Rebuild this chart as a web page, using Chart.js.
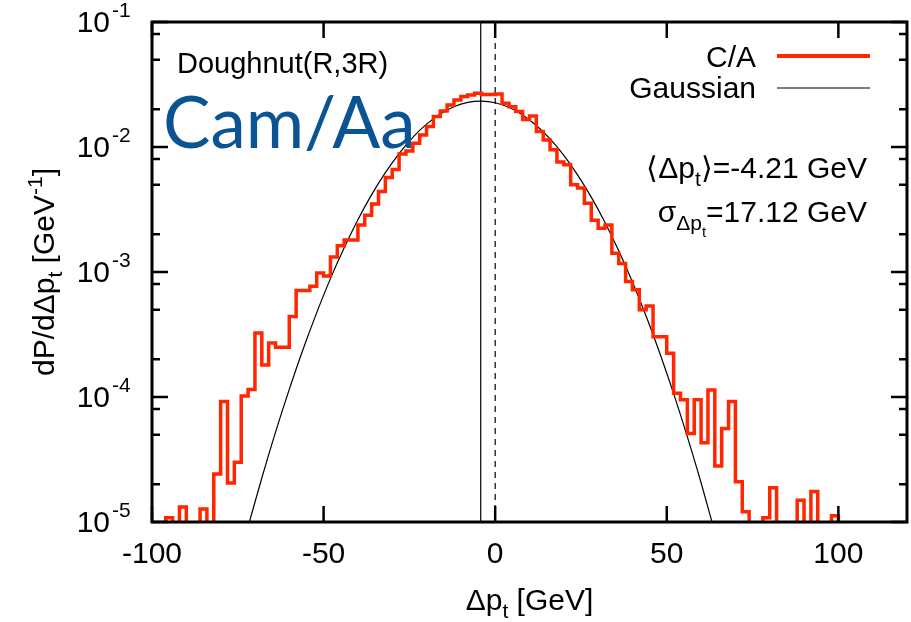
<!DOCTYPE html>
<html>
<head>
<meta charset="utf-8">
<script src="https://cdn.jsdelivr.net/npm/chart.js@4.4.1/dist/chart.umd.min.js"></script>
<style>
    html, body { margin: 0; padding: 0; background: #fff; }
    canvas { display: block; }
</style>
</head>
<body>
<canvas id="grafica" width="911" height="622"></canvas>
<script>
// ─── DATOS ────────────────────────────────────────────────────────
// bordes de los bins (GeV)
const bordes = [
    -100, -98, -96, -94, -92, -90, -88, -86, -84, -82,
    -80, -78, -76, -74, -72, -70, -68, -66, -64, -62,
    -60, -58, -56, -54, -52, -50, -48, -46, -44, -42,
    -40, -38, -36, -34, -32, -30, -28, -26, -24, -22,
    -20, -18, -16, -14, -12, -10, -8, -6, -4, -2,
    0, 2, 4, 6, 8, 10, 12, 14, 16, 18,
    20, 22, 24, 26, 28, 30, 32, 34, 36, 38,
    40, 42, 44, 46, 48, 50, 52, 54, 56, 58,
    60, 62, 64, 66, 68, 70, 72, 74, 76, 78,
    80, 82, 84, 86, 88, 90, 92, 94, 96, 98,
    100
]

// dP/dΔpt por bin (C/A), 0 = bin vacío
const densidadCA = [
    0, 0, 1.08e-5, 0, 1.32e-5, 0, 0, 1.27e-5, 0, 2.42e-5,
    9.2e-5, 2.05e-5, 3.0e-5, 1.02e-4, 1.15e-4, 3.25e-4, 1.8e-4, 2.7e-4, 2.5e-4, 2.5e-4,
    4.4e-4, 7.1e-4, 7.1e-4, 7.7e-4, 9.8e-4, 9.3e-4, 1.32e-3, 1.62e-3, 1.8e-3, 1.8e-3,
    2.38e-3, 2.84e-3, 3.5e-3, 4.4e-3, 5.7e-3, 6.6e-3, 8.8e-3, 9.3e-3, 1.07e-2, 1.25e-2,
    1.46e-2, 1.75e-2, 1.94e-2, 2.17e-2, 2.38e-2, 2.53e-2, 2.61e-2, 2.69e-2, 2.63e-2, 2.63e-2,
    2.65e-2, 2.24e-2, 2.10e-2, 1.92e-2, 1.66e-2, 1.77e-2, 1.33e-2, 1.14e-2, 9.5e-3, 7.6e-3,
    7.2e-3, 5.0e-3, 4.7e-3, 3.55e-3, 2.6e-3, 2.24e-3, 2.38e-3, 1.41e-3, 1.17e-3, 8.4e-4,
    7.2e-4, 5.0e-4, 5.35e-4, 3.04e-4, 3.04e-4, 2.24e-4, 1.07e-4, 9.5e-5, 5.1e-5, 9.5e-5,
    4.3e-5, 1.14e-4, 2.8e-5, 5.6e-5, 9.2e-5, 2.1e-5, 1.21e-5, 0, 0, 1.08e-5,
    1.88e-5, 0, 0, 0, 1.49e-5, 0, 1.75e-5, 0, 0, 1.12e-5
]

// curva gaussiana
const gaussX = [
    -72, -68, -64, -60, -56, -52, -48, -44, -40, -36, -32, -28,
    -24, -20, -16, -12, -8, -4, 0, 4, 8, 12, 16, 20,
    24, 28, 32, 36, 40, 44, 48, 52, 56, 60, 64
]
const gaussY = [
    9.2e-6, 2.25e-5, 5.24e-5, 1.15e-4, 2.40e-4, 4.73e-4, 8.85e-4, 1.56e-3, 2.62e-3, 4.16e-3, 6.24e-3, 8.87e-3,
    1.195e-2, 1.523e-2, 1.838e-2, 2.101e-2, 2.274e-2, 2.33e-2, 2.261e-2, 2.077e-2, 1.807e-2, 1.488e-2, 1.161e-2, 8.57e-3,
    5.99e-3, 3.97e-3, 2.49e-3, 1.478e-3, 8.31e-4, 4.42e-4, 2.23e-4, 1.063e-4, 4.80e-5, 2.06e-5, 8.3e-6
]

const mediaDpt = -4.21
const sigmaDpt = 17.12

const ticksX = [-100, -50, 0, 50, 100]
const exponentesY = [-5, -4, -3, -2, -1]
const menoresY = [2, 5, 8]

const X_MIN = -100, X_MAX = 120
const Y_MIN = 1e-5, Y_MAX = 1e-1
const PISO = 1e-9   // los bins vacíos caen fuera del área (escala log)

const ROJO = 'rgb(255,38,0)'
const AZUL = 'rgb(11,84,148)'
const FUENTE = '"Liberation Sans", Arial, Helvetica, sans-serif'

// ─── TEXTO CON SUB/SUPERÍNDICES ───────────────────────────────────
function anchoPartes(ctx, partes) {
    let w = 0
    partes.forEach(p => {
        ctx.font = `${p.s}px ${FUENTE}`
        w += ctx.measureText(p.t).width
    })
    return w
}

function dibujarPartes(ctx, partes, x, y) {
    ctx.textAlign = 'left'
    ctx.textBaseline = 'alphabetic'
    partes.forEach(p => {
        ctx.font = `${p.s}px ${FUENTE}`
        ctx.fillText(p.t, x, y + p.dy)
        x += ctx.measureText(p.t).width
    })
}

// ─── PLUGIN: marco, ticks y textos estilo gnuplot ─────────────────
const marcoGnuplot = {
    id: 'marcoGnuplot',
    afterDatasetsDraw(chart) {
        const { ctx, chartArea: a, scales: { x, y } } = chart
        ctx.save()
        ctx.fillStyle = '#000'

        // rótulo superior izquierdo
        ctx.font = `29px ${FUENTE}`
        ctx.textAlign = 'left'
        ctx.textBaseline = 'alphabetic'
        ctx.fillText('Doughnut(R,3R)', 177, 73)

        // leyenda
        ctx.font = `30px ${FUENTE}`
        ctx.textAlign = 'right'
        ctx.fillText('C/A', 756, 67)
        ctx.fillText('Gaussian', 756, 98)
        ctx.lineCap = 'butt'
        ctx.strokeStyle = ROJO
        ctx.lineWidth = 4
        ctx.beginPath(); ctx.moveTo(777, 56); ctx.lineTo(870, 56); ctx.stroke()
        ctx.strokeStyle = '#000'
        ctx.lineWidth = 1.2
        ctx.beginPath(); ctx.moveTo(777, 88); ctx.lineTo(870, 88); ctx.stroke()

        // estadísticas
        const linea1 = [
            { t: '⟨Δp', s: 30, dy: 0 },
            { t: 't', s: 21, dy: 8 },
            { t: '⟩=' + mediaDpt.toFixed(2) + ' GeV', s: 30, dy: 0 }
        ]
        const linea2 = [
            { t: 'σ', s: 30, dy: 0 },
            { t: 'Δp', s: 21, dy: 8 },
            { t: 't', s: 15, dy: 15 },
            { t: '=' + sigmaDpt.toFixed(2) + ' GeV', s: 30, dy: 0 }
        ]
        dibujarPartes(ctx, linea1, 867 - anchoPartes(ctx, linea1), 178)
        dibujarPartes(ctx, linea2, 867 - anchoPartes(ctx, linea2), 222)

        // Cam/Aa
        ctx.fillStyle = AZUL
        ctx.font = '71px Lato, "Open Sans", sans-serif'
        ctx.textAlign = 'left'
        ctx.fillText('Cam/Aa', 163, 148)
        ctx.fillStyle = '#000'

        // marco
        ctx.strokeStyle = '#000'
        ctx.lineWidth = 3
        ctx.strokeRect(a.left, a.top, a.right - a.left, a.bottom - a.top)

        // ticks X (abajo y arriba)
        ctx.lineWidth = 2.5
        ctx.beginPath()
        ticksX.forEach(v => {
            const px = x.getPixelForValue(v)
            ctx.moveTo(px, a.bottom); ctx.lineTo(px, a.bottom - 16)
            ctx.moveTo(px, a.top); ctx.lineTo(px, a.top + 16)
        })
        // ticks Y mayores y menores (izquierda y derecha)
        exponentesY.forEach(e => {
            const py = y.getPixelForValue(Math.pow(10, e))
            ctx.moveTo(a.left, py); ctx.lineTo(a.left + 16, py)
            ctx.moveTo(a.right, py); ctx.lineTo(a.right - 16, py)
            if (e < -1) {
                menoresY.forEach(m => {
                    const pm = y.getPixelForValue(m * Math.pow(10, e))
                    ctx.moveTo(a.left, pm); ctx.lineTo(a.left + 8, pm)
                    ctx.moveTo(a.right, pm); ctx.lineTo(a.right - 8, pm)
                })
            }
        })
        ctx.stroke()

        // etiquetas X
        ctx.font = `30px ${FUENTE}`
        ctx.textAlign = 'center'
        ticksX.forEach(v => ctx.fillText(String(v), x.getPixelForValue(v), 563))

        // etiquetas Y: 10^e
        exponentesY.forEach(e => {
            const py = y.getPixelForValue(Math.pow(10, e))
            ctx.font = `30px ${FUENTE}`
            ctx.textAlign = 'right'
            ctx.fillText('10', 110, py + 10)
            ctx.font = `21px ${FUENTE}`
            ctx.textAlign = 'left'
            ctx.fillText(String(e), 112, py - 5)
        })

        // título eje X
        const tituloX = [
            { t: 'Δp', s: 30, dy: 0 },
            { t: 't', s: 21, dy: 8 },
            { t: ' [GeV]', s: 30, dy: 0 }
        ]
        dibujarPartes(ctx, tituloX, (a.left + a.right) / 2 - anchoPartes(ctx, tituloX) / 2, 610)

        // título eje Y (rotado)
        const tituloY = [
            { t: 'dP/dΔp', s: 30, dy: 0 },
            { t: 't', s: 21, dy: 8 },
            { t: ' [GeV', s: 30, dy: 0 },
            { t: '-1', s: 21, dy: -12 },
            { t: ']', s: 30, dy: 0 }
        ]
        ctx.translate(54, (a.top + a.bottom) / 2)
        ctx.rotate(-Math.PI / 2)
        dibujarPartes(ctx, tituloY, -anchoPartes(ctx, tituloY) / 2, 0)

        ctx.restore()
    }
}

// ─── GRÁFICA ──────────────────────────────────────────────────────
const puntosHist = bordes.map((b, i) => {
    const v = i < densidadCA.length ? densidadCA[i] : 0
    return { x: b, y: v > 0 ? v : PISO }
})

new Chart(document.getElementById('grafica'), {
    type: 'line',
    data: {
        datasets: [
            {
                label: 'C/A',
                data: puntosHist,
                borderColor: ROJO,
                borderWidth: 3.5,
                stepped: 'before',
                pointRadius: 0,
                fill: false
            },
            {
                label: 'Gaussian',
                data: gaussX.map((v, i) => ({ x: v, y: gaussY[i] })),
                borderColor: '#000',
                borderWidth: 1.2,
                cubicInterpolationMode: 'monotone',
                pointRadius: 0,
                fill: false
            },
            {
                label: 'media',
                data: [{ x: mediaDpt, y: Y_MIN }, { x: mediaDpt, y: Y_MAX }],
                borderColor: '#000',
                borderWidth: 1.2,
                pointRadius: 0
            },
            {
                label: 'cero',
                data: [{ x: 0, y: Y_MIN }, { x: 0, y: Y_MAX }],
                borderColor: '#000',
                borderWidth: 1.2,
                borderDash: [6, 5],
                pointRadius: 0
            }
        ]
    },
    options: {
        responsive: false,
        animation: false,
        devicePixelRatio: 1,
        layout: { padding: { left: 0, right: 4, top: 22, bottom: 0 } },
        plugins: { legend: { display: false }, tooltip: { enabled: false } },
        scales: {
            x: {
                type: 'linear',
                min: X_MIN,
                max: X_MAX,
                grid: { display: false },
                border: { display: false },
                ticks: { display: false },
                afterFit: s => { s.height = 100 }
            },
            y: {
                type: 'logarithmic',
                min: Y_MIN,
                max: Y_MAX,
                grid: { display: false },
                border: { display: false },
                ticks: { display: false },
                afterFit: s => { s.width = 152 }
            }
        }
    },
    plugins: [marcoGnuplot]
})
</script>
</body>
</html>
